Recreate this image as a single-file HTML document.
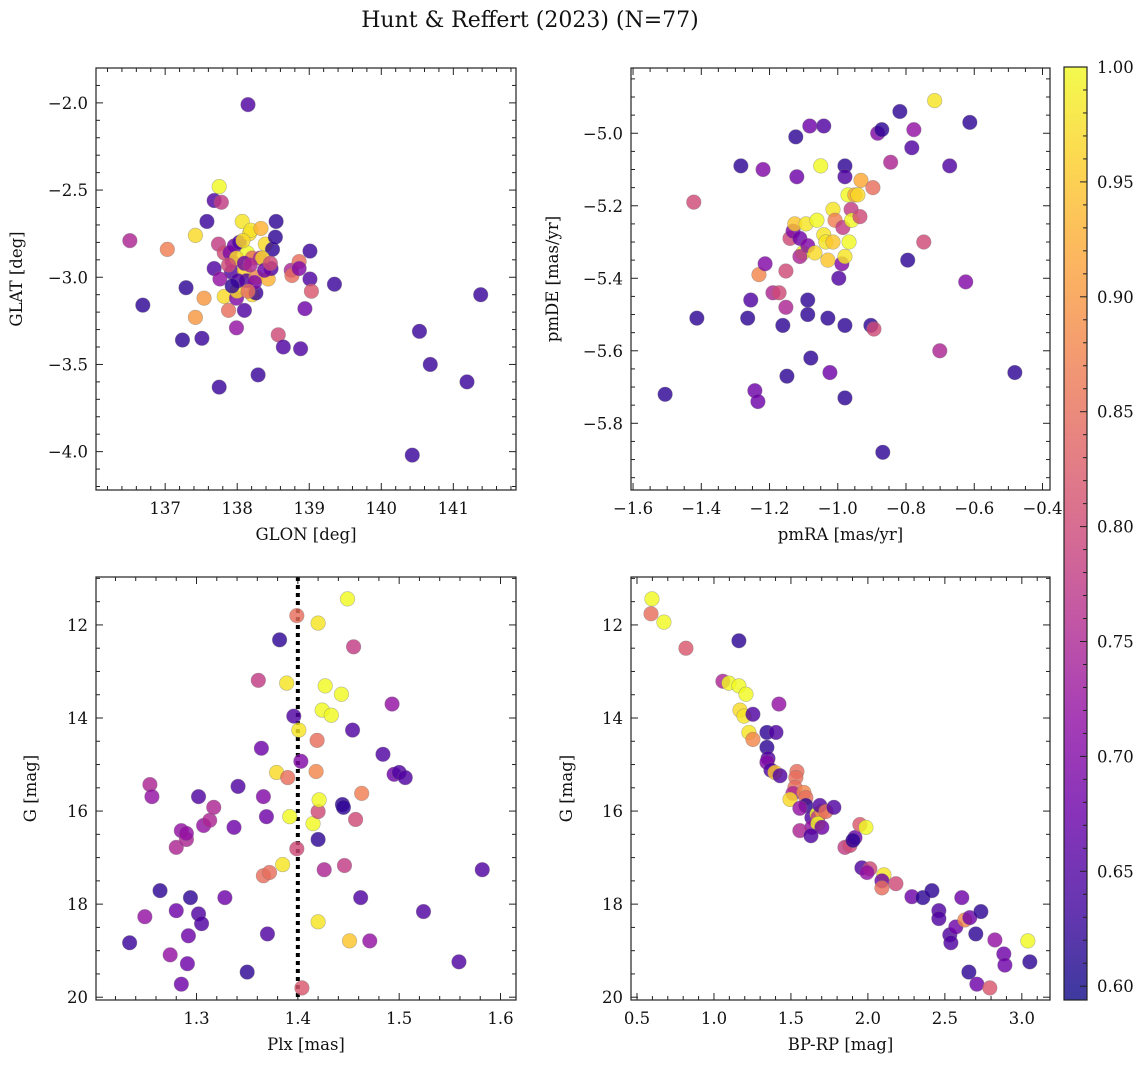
<!DOCTYPE html>
<html><head><meta charset="utf-8"><style>
body{margin:0;background:#fff}
svg text{font-family:"DejaVu Serif","Liberation Serif",serif;fill:#111}
</style></head><body>
<svg id="fig" width="1148" height="1067" xmlns="http://www.w3.org/2000/svg">
<defs>
<linearGradient id="plasma" x1="0" y1="1" x2="0" y2="0">
<stop offset="0" stop-color="#0d0887"/><stop offset="0.1" stop-color="#41049d"/><stop offset="0.2" stop-color="#6a00a8"/><stop offset="0.3" stop-color="#8f0da4"/><stop offset="0.4" stop-color="#b12a90"/><stop offset="0.5" stop-color="#cc4778"/><stop offset="0.6" stop-color="#e16462"/><stop offset="0.7" stop-color="#f2844b"/><stop offset="0.8" stop-color="#fca636"/><stop offset="0.9" stop-color="#fcce25"/><stop offset="1" stop-color="#f0f921"/>
</linearGradient>
</defs>
<text x="530" y="27" font-size="22" text-anchor="middle">Hunt &amp; Reffert (2023) (N=77)</text>
</svg>
<script>
const glon=[138.15,136.51,136.69,137.03,137.24,137.29,137.42,137.42,137.51,137.54,137.58,137.68,137.68,137.75,137.78,137.74,137.75,137.82,137.82,137.88,137.9,137.92,137.93,137.96,137.99,137.99,138.0,138.03,138.07,138.1,138.13,138.1,138.14,138.17,138.19,138.21,138.21,138.26,138.26,138.29,138.32,138.33,138.39,138.43,138.49,138.47,138.53,138.54,138.57,138.64,138.75,138.76,138.86,138.86,138.88,138.94,139.01,139.01,139.03,139.35,140.53,140.68,140.43,141.19,141.38,137.99,138.1,137.88,138.24,138.35,138.01,138.18,138.38,137.76,138.15,137.93,138.46,138.08];
const glat=[-2.01,-2.79,-3.16,-2.84,-3.36,-3.06,-2.76,-3.23,-3.35,-3.12,-2.68,-2.95,-2.56,-2.48,-2.57,-2.81,-3.63,-2.86,-3.11,-3.19,-2.86,-2.97,-2.91,-2.82,-3.12,-3.29,-3.08,-2.8,-2.68,-2.96,-3.02,-3.19,-2.86,-2.75,-2.73,-2.89,-3.1,-3.09,-3.0,-3.56,-2.89,-2.72,-2.81,-3.01,-2.84,-2.95,-2.77,-2.68,-3.33,-3.4,-2.96,-2.99,-2.91,-2.95,-3.41,-3.18,-2.85,-3.01,-3.08,-3.04,-3.31,-3.5,-4.02,-3.6,-3.1,-2.89,-2.92,-2.93,-3.03,-2.89,-3.02,-2.93,-2.96,-3.01,-3.08,-3.05,-2.92,-2.79];
const prob1=[0.65,0.75,0.62,0.87,0.62,0.62,0.97,0.9,0.63,0.9,0.63,0.65,0.65,1.0,0.78,0.78,0.63,0.8,0.97,0.85,0.7,0.65,0.7,0.68,0.7,0.72,0.97,0.65,0.98,0.96,0.65,0.65,1.0,0.97,0.98,0.85,0.97,0.63,0.88,0.63,0.75,0.93,0.97,0.93,0.62,0.65,0.62,0.62,0.8,0.65,0.75,0.85,0.85,0.7,0.65,0.68,0.63,0.65,0.82,0.63,0.63,0.63,0.63,0.63,0.63,0.97,0.68,0.8,0.7,0.97,0.65,0.75,0.68,0.72,0.85,0.62,0.8,0.97];
const pmra=[-1.506,-1.413,-1.422,-1.284,-1.264,-1.255,-1.243,-1.234,-1.231,-1.213,-1.219,-1.19,-1.172,-1.161,-1.152,-1.149,-1.14,-1.131,-1.126,-1.123,-1.12,-1.111,-1.102,-1.093,-1.088,-1.088,-1.088,-1.082,-1.079,-1.061,-1.05,-1.041,-1.041,-1.035,-1.029,-1.023,-1.014,-1.008,-1.014,-0.997,-0.988,-0.985,-0.979,-0.979,-0.979,-0.979,-0.979,-0.97,-0.967,-0.961,-0.959,-0.95,-0.941,-0.935,-0.932,-0.903,-0.897,-0.894,-0.883,-0.871,-0.868,-0.845,-0.818,-0.795,-0.783,-0.777,-0.748,-0.716,-0.701,-0.672,-0.625,-0.613,-0.481,-1.111,-1.029,-1.067,-1.152];
const pmde=[-5.72,-5.51,-5.19,-5.09,-5.51,-5.46,-5.71,-5.74,-5.39,-5.36,-5.10,-5.44,-5.44,-5.53,-5.38,-5.67,-5.29,-5.27,-5.25,-5.01,-5.12,-5.29,-5.33,-5.25,-5.31,-5.46,-5.5,-4.98,-5.62,-5.24,-5.09,-4.98,-5.28,-5.3,-5.51,-5.66,-5.21,-5.24,-5.3,-5.4,-5.36,-5.26,-5.34,-5.09,-5.12,-5.53,-5.73,-5.17,-5.3,-5.21,-5.24,-5.17,-5.17,-5.23,-5.13,-5.53,-5.15,-5.54,-5.0,-4.99,-5.88,-5.08,-4.94,-5.35,-5.04,-4.99,-5.3,-4.91,-5.6,-5.09,-5.41,-4.97,-5.66,-5.34,-5.35,-5.33,-5.48];
const prob2=[0.62,0.62,0.8,0.62,0.62,0.65,0.68,0.68,0.88,0.7,0.7,0.75,0.8,0.62,0.8,0.62,0.8,0.7,0.95,0.62,0.68,0.68,1.0,0.98,0.7,0.62,0.62,0.68,0.62,1.0,1.0,0.65,0.98,0.98,0.62,0.68,0.98,0.87,0.95,0.65,0.7,0.78,0.98,0.62,0.65,0.62,0.62,1.0,1.0,0.78,1.0,0.92,0.97,0.8,0.92,0.62,0.85,0.8,0.7,0.62,0.62,0.75,0.62,0.62,0.65,0.72,0.8,0.98,0.75,0.65,0.7,0.62,0.62,0.75,0.95,0.97,0.75];
const plx=[1.234,1.249,1.254,1.256,1.264,1.274,1.28,1.28,1.285,1.285,1.29,1.29,1.291,1.292,1.294,1.302,1.302,1.305,1.307,1.313,1.317,1.328,1.337,1.341,1.35,1.361,1.364,1.366,1.366,1.369,1.37,1.372,1.379,1.382,1.385,1.389,1.39,1.392,1.396,1.399,1.399,1.401,1.403,1.404,1.415,1.418,1.419,1.42,1.42,1.42,1.42,1.421,1.424,1.426,1.427,1.433,1.443,1.444,1.445,1.446,1.449,1.451,1.454,1.455,1.457,1.462,1.463,1.471,1.484,1.493,1.495,1.5,1.506,1.524,1.559,1.582];
const gmag3=[18.83,18.27,15.43,15.69,17.71,19.09,16.78,18.14,16.42,19.72,16.61,16.48,19.28,18.68,17.86,15.69,18.21,18.42,16.31,16.2,15.92,17.86,16.35,15.47,19.46,13.19,14.65,15.69,17.39,16.12,18.64,17.32,15.17,12.32,17.15,13.25,15.28,16.12,13.96,11.8,16.81,14.26,14.93,19.8,16.27,15.15,14.48,16.61,16.01,18.38,11.96,15.76,13.83,17.26,13.31,13.94,13.49,15.86,15.92,17.17,11.44,18.79,14.26,12.47,16.18,17.86,15.62,18.79,14.78,13.7,15.21,15.17,15.28,18.16,19.24,17.26];
const prob3=[0.63,0.72,0.75,0.72,0.62,0.72,0.75,0.68,0.72,0.68,0.75,0.72,0.68,0.68,0.62,0.65,0.65,0.65,0.72,0.75,0.75,0.68,0.68,0.65,0.62,0.78,0.68,0.7,0.85,0.68,0.65,0.85,0.97,0.62,0.98,0.98,0.85,1.0,0.65,0.85,0.8,0.98,0.7,0.82,1.0,0.88,0.85,0.62,0.8,0.98,0.98,1.0,1.0,0.75,1.0,1.0,1.0,0.62,0.62,0.78,1.0,0.95,0.65,0.78,0.8,0.65,0.87,0.72,0.65,0.72,0.68,0.65,0.65,0.65,0.65,0.65];
const bprp=[0.597,0.591,0.675,0.818,1.058,1.097,1.162,1.162,1.208,1.169,1.195,1.253,1.227,1.253,1.344,1.403,1.422,1.344,1.351,1.344,1.37,1.396,1.429,1.539,1.532,1.526,1.513,1.494,1.584,1.597,1.597,1.558,1.636,1.669,1.675,1.701,1.688,1.636,1.675,1.701,1.727,1.779,1.558,1.63,1.851,1.883,1.916,1.903,1.948,1.987,1.961,2.013,1.994,2.104,2.091,2.091,2.182,2.286,2.357,2.416,2.461,2.461,2.532,2.539,2.571,2.61,2.63,2.662,2.656,2.701,2.708,2.734,2.792,2.825,2.883,2.89,3.039,3.052];
const gmag4=[11.44,11.76,11.94,12.5,13.21,13.25,13.31,12.34,13.49,13.83,13.96,13.92,14.31,14.46,14.31,14.31,13.7,14.63,14.87,14.95,15.12,15.17,15.24,15.15,15.28,15.49,15.62,15.75,15.6,15.71,15.88,15.94,16.14,16.07,16.14,16.01,15.88,16.35,16.27,16.35,16.01,15.92,16.42,16.53,16.78,16.74,16.57,16.63,16.29,16.35,17.22,17.24,17.32,17.37,17.5,17.65,17.56,17.84,17.86,17.71,18.14,18.31,18.66,18.83,18.49,17.86,18.34,18.29,19.46,18.64,19.72,18.16,19.8,18.77,19.07,19.31,18.79,19.24];
const prob4=[1.0,0.85,1.0,0.82,0.75,1.0,1.0,0.62,1.0,0.97,0.98,0.65,0.98,0.88,0.62,0.65,0.72,0.62,0.65,0.7,0.65,0.95,0.65,0.85,0.85,0.85,0.75,0.97,0.88,0.85,0.62,0.72,0.65,1.0,0.78,0.9,0.65,0.72,1.0,0.68,0.85,0.65,0.75,0.65,0.78,0.8,0.68,0.62,0.82,1.0,0.65,0.8,0.72,0.98,0.68,0.85,0.8,0.68,0.62,0.62,0.65,0.65,0.65,0.65,0.68,0.68,0.88,0.68,0.62,0.62,0.68,0.62,0.82,0.72,0.68,0.68,1.0,0.62];
const cbTicks=[0.60,0.65,0.70,0.75,0.80,0.85,0.90,0.95,1.00];

const NS='http://www.w3.org/2000/svg';
const svg=document.getElementById('fig');
function mk(tag,attrs,parent){const e=document.createElementNS(NS,tag);for(const k in attrs)e.setAttribute(k,attrs[k]);(parent||svg).appendChild(e);return e;}
const stops=[[0,13,8,135],[.1,65,4,157],[.2,106,0,168],[.3,143,13,164],[.4,177,42,144],[.5,204,71,120],[.6,225,100,98],[.7,242,132,75],[.8,252,166,54],[.9,252,206,37],[1,240,249,33]];
const VMIN=0.594,VMAX=1.0;
function cmap(v){let t=Math.max(0,Math.min(1,(v-VMIN)/(VMAX-VMIN)));for(let i=1;i<stops.length;i++){if(t<=stops[i][0]){const a=stops[i-1],b=stops[i];const f=(t-a[0])/(b[0]-a[0]);return 'rgb('+[1,2,3].map(j=>Math.round(a[j]+(b[j]-a[j])*f)).join(',')+')';}}return 'rgb(240,249,33)';}
function fmt(v,d){return (v<0?'\u2212':'')+Math.abs(v).toFixed(d);}

function panel(o){
  const g=mk('g',{});
  
  
  const sx=v=>o.x0+(v-o.xmin)/(o.xmax-o.xmin)*(o.x1-o.x0);
  const sy=o.inv?(v=>o.y0+(v-o.ymin)/(o.ymax-o.ymin)*(o.y1-o.y0)):(v=>o.y1-(v-o.ymin)/(o.ymax-o.ymin)*(o.y1-o.y0));
  const axG=mk('g',{stroke:'#222','stroke-width':1},g);
  for(let v=Math.ceil(o.xmin/o.xminor-1e-6)*o.xminor;v<=o.xmax+1e-9;v+=o.xminor){
    const px=sx(v);const maj=Math.abs(v/o.xmajor-Math.round(v/o.xmajor))<1e-6;const L=maj?7:4;
    mk('line',{x1:px,x2:px,y1:o.y1,y2:o.y1-L},axG);mk('line',{x1:px,x2:px,y1:o.y0,y2:o.y0+L},axG);
    if(maj){const t=mk('text',{x:px,y:o.y1+24,'font-size':16.5,'text-anchor':'middle',stroke:'none'},g);t.textContent=fmt(v,o.xd);}
  }
  for(let v=Math.ceil(Math.min(o.ymin,o.ymax)/o.yminor-1e-6)*o.yminor;v<=Math.max(o.ymin,o.ymax)+1e-9;v+=o.yminor){
    const py=sy(v);const maj=Math.abs(v/o.ymajor-Math.round(v/o.ymajor))<1e-6;const L=maj?7:4;
    mk('line',{x1:o.x0,x2:o.x0+L,y1:py,y2:py},axG);mk('line',{x1:o.x1,x2:o.x1-L,y1:py,y2:py},axG);
    if(maj){const t=mk('text',{x:o.x0-8,y:py+6,'font-size':16.5,'text-anchor':'end',stroke:'none'},g);t.textContent=fmt(v,o.yd);}
  }
  if(o.vline!==undefined){const l=mk('line',{x1:sx(o.vline),x2:sx(o.vline),y1:o.y0,y2:o.y1,stroke:'#000','stroke-width':4,'stroke-dasharray':'4,4'},g);}
  const pts=mk('g',{},g);
  
  
  const n=Math.min(o.xs.length,o.ys.length,o.ps.length);
  for(let i=0;i<n;i++){
    const c=mk('circle',{cx:sx(o.xs[i]),cy:sy(o.ys[i]),r:7.3,fill:cmap(o.ps[i]),'fill-opacity':0.82,stroke:'#777','stroke-opacity':0.5,'stroke-width':0.6},pts);
    
    
  }
  const fr=mk('rect',{x:o.x0,y:o.y0,width:o.x1-o.x0,height:o.y1-o.y0,fill:'none',stroke:'#222','stroke-width':1.2},g);
  
  const xl=mk('text',{x:(o.x0+o.x1)/2,y:o.y1+50,'font-size':16.5,'text-anchor':'middle'},g);xl.textContent=o.xlabel;
  
  const yx=o.ylx,yy=(o.y0+o.y1)/2;
  const yl=mk('text',{x:yx,y:yy,'font-size':16.5,'text-anchor':'middle',transform:'rotate(-90 '+yx+' '+yy+')'},g);yl.textContent=o.ylabel;
  
}
panel({name:'glon-glat-panel',x0:96,x1:516,y0:68,y1:490,xmin:136.04,xmax:141.87,ymin:-4.22,ymax:-1.8,xmajor:1,xminor:0.2,ymajor:0.5,yminor:0.1,xd:0,yd:1,xs:glon,ys:glat,ps:prob1,xlabel:'GLON [deg]',ylabel:'GLAT [deg]',ylx:22});
panel({name:'proper-motion-panel',x0:631,x1:1050,y0:68,y1:490,xmin:-1.606,xmax:-0.378,ymin:-5.984,ymax:-4.82,xmajor:0.2,xminor:0.05,ymajor:0.2,yminor:0.05,xd:1,yd:1,xs:pmra,ys:pmde,ps:prob2,xlabel:'pmRA [mas/yr]',ylabel:'pmDE [mas/yr]',ylx:558});
panel({name:'parallax-panel',x0:96,x1:516,y0:577,y1:1000,xmin:1.2008,xmax:1.6153,ymin:10.97,ymax:20.06,inv:true,xmajor:0.1,xminor:0.02,ymajor:2,yminor:0.5,xd:1,yd:0,xs:plx,ys:gmag3,ps:prob3,xlabel:'Plx [mas]',ylabel:'G [mag]',ylx:36,vline:1.4});
panel({name:'cmd-panel',x0:631,x1:1050,y0:577,y1:1000,xmin:0.461,xmax:3.183,ymin:10.97,ymax:20.06,inv:true,xmajor:0.5,xminor:0.1,ymajor:2,yminor:0.5,xd:1,yd:0,xs:bprp,ys:gmag4,ps:prob4,xlabel:'BP-RP [mag]',ylabel:'G [mag]',ylx:572});
const cb=mk('g',{});


const CX=1064,CW=23,CT=67,CB=1000;
mk('rect',{x:CX,y:CT,width:CW,height:CB-CT,fill:'url(#plasma)','fill-opacity':0.8},cb);
mk('rect',{x:CX,y:CT,width:CW,height:CB-CT,fill:'none',stroke:'#222','stroke-width':1.2},cb);
const cy=v=>CB-(v-VMIN)/(VMAX-VMIN)*(CB-CT);
for(let v=0.6;v<=1.0001;v+=0.01){const maj=Math.abs(v*20-Math.round(v*20))<1e-6;mk('line',{x1:CX+CW,x2:CX+CW-(maj?7:4),y1:cy(v),y2:cy(v),stroke:'#222'},cb);}
cbTicks.forEach(v=>{const t=mk('text',{x:CX+CW+10,y:cy(v)+6,'font-size':16.5},cb);t.textContent=v.toFixed(2);});
</script>
</body></html>
